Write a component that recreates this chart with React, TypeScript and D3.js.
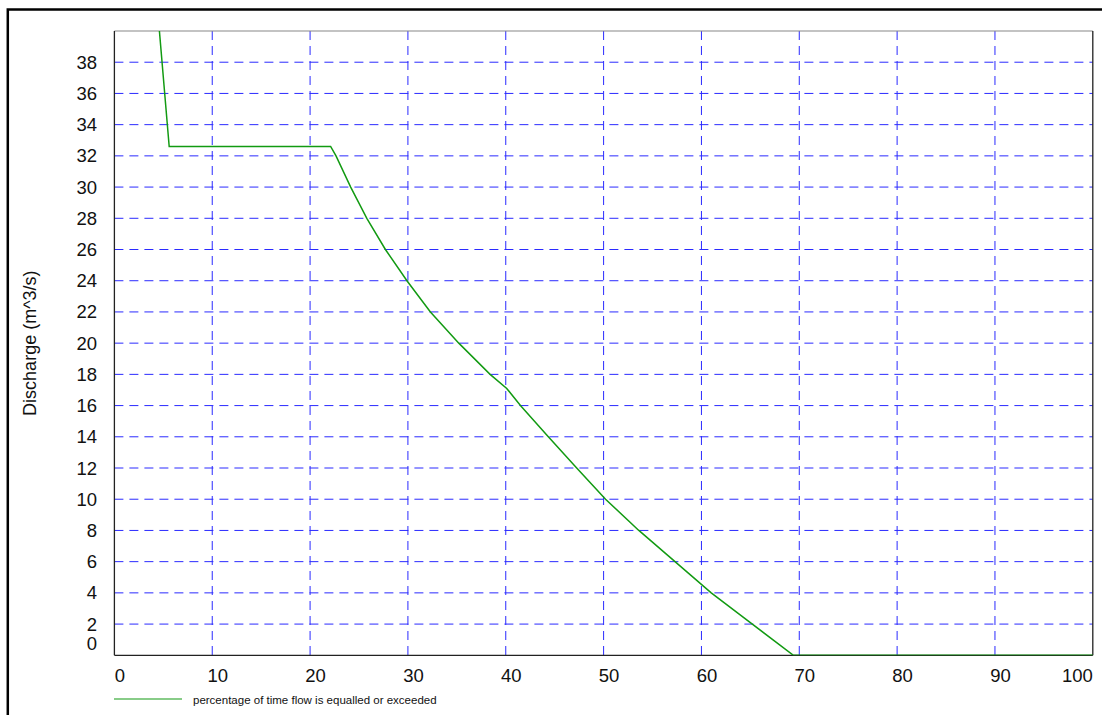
import { useEffect, useRef } from "react";
import * as d3 from "d3";

// Flow duration curve
const flowPct = [4.6, 5.6, 22.1, 22.65, 24.15, 25.8, 27.7, 29.9, 32.3, 35.2, 38.4, 40.1, 41.5, 44.35, 47.25, 50.2, 53.6, 57.3, 61.0, 65.2, 69.4, 100];
const flowQ = [40, 32.6, 32.6, 32, 30, 28, 26, 24, 22, 20, 18, 17.1, 16, 14, 12, 10, 8, 6, 4, 2, 0, 0];

const xTicks = [0, 10, 20, 30, 40, 50, 60, 70, 80, 90, 100];
const yTicks = [0, 2, 4, 6, 8, 10, 12, 14, 16, 18, 20, 22, 24, 26, 28, 30, 32, 34, 36, 38];

const WIDTH = 1102;
const HEIGHT = 715;
const PLOT = { left: 114.4, right: 1092.8, top: 31, bottom: 655.3 };

const COLOR_GRID = "#2a2aff";
const COLOR_LINE = "#129a12";
const FONT = "'Liberation Sans', Arial, sans-serif";

export default function App() {
  const svgRef = useRef<SVGSVGElement>(null);

  useEffect(() => {
    const svg = d3.select(svgRef.current);
    svg.selectAll("*").remove();

    const x = d3.scaleLinear().domain([0, 100]).range([PLOT.left, PLOT.right]);
    const y = d3.scaleLinear().domain([0, 40]).range([PLOT.bottom, PLOT.top]);

    svg.append("rect").attr("width", WIDTH).attr("height", HEIGHT).attr("fill", "#fff");

    // outer frame (runs off the right/bottom edge)
    svg
      .append("rect")
      .attr("x", 7.8)
      .attr("y", 9.5)
      .attr("width", 1200)
      .attr("height", 800)
      .attr("fill", "none")
      .attr("stroke", "#000")
      .attr("stroke-width", 2.5);

    const clipId = "plot-clip";
    svg
      .append("clipPath")
      .attr("id", clipId)
      .append("rect")
      .attr("x", PLOT.left)
      .attr("y", PLOT.top)
      .attr("width", PLOT.right - PLOT.left)
      .attr("height", PLOT.bottom - PLOT.top);

    // gridlines
    xTicks.slice(1, -1).forEach((t) => {
      svg
        .append("line")
        .attr("x1", x(t))
        .attr("x2", x(t))
        .attr("y1", PLOT.top)
        .attr("y2", PLOT.bottom)
        .attr("stroke", COLOR_GRID)
        .attr("stroke-width", 1)
        .attr("stroke-dasharray", "9,6");
    });
    yTicks.slice(1).forEach((t) => {
      svg
        .append("line")
        .attr("x1", PLOT.left)
        .attr("x2", PLOT.right)
        .attr("y1", y(t))
        .attr("y2", y(t))
        .attr("stroke", COLOR_GRID)
        .attr("stroke-width", 1)
        .attr("stroke-dasharray", "9,6");
    });

    // plot border
    svg
      .append("line")
      .attr("x1", PLOT.left)
      .attr("x2", PLOT.right)
      .attr("y1", PLOT.top)
      .attr("y2", PLOT.top)
      .attr("stroke", "#888")
      .attr("stroke-width", 1.2);
    [
      [PLOT.left, PLOT.top, PLOT.left, PLOT.bottom],
      [PLOT.right, PLOT.top, PLOT.right, PLOT.bottom],
      [PLOT.left, PLOT.bottom, PLOT.right, PLOT.bottom],
    ].forEach(([x1, y1, x2, y2]) => {
      svg
        .append("line")
        .attr("x1", x1)
        .attr("y1", y1)
        .attr("x2", x2)
        .attr("y2", y2)
        .attr("stroke", "#222")
        .attr("stroke-width", 1.3);
    });

    // curve
    const line = d3
      .line<number>()
      .x((_, i) => x(flowPct[i]))
      .y((d) => y(d));
    svg
      .append("path")
      .datum(flowQ)
      .attr("d", line)
      .attr("clip-path", `url(#${clipId})`)
      .attr("fill", "none")
      .attr("stroke", COLOR_LINE)
      .attr("stroke-width", 1.5);

    // y tick labels
    yTicks.forEach((t) => {
      svg
        .append("text")
        .attr("x", 97)
        .attr("y", t === 0 ? y(t) - 12 : y(t))
        .attr("text-anchor", "end")
        .attr("dominant-baseline", "central")
        .attr("font-family", FONT)
        .attr("font-size", "18.5px")
        .attr("fill", "#111")
        .text(t);
    });

    // x tick labels
    xTicks.forEach((t, i) => {
      const last = i === xTicks.length - 1;
      svg
        .append("text")
        .attr("x", last ? PLOT.right : x(t) + 5.5)
        .attr("y", 681.5)
        .attr("text-anchor", last ? "end" : "middle")
        .attr("font-family", FONT)
        .attr("font-size", "18.5px")
        .attr("fill", "#111")
        .text(t);
    });

    // y axis title
    svg
      .append("text")
      .attr("transform", `translate(30,${(PLOT.top + PLOT.bottom) / 2}) rotate(-90)`)
      .attr("text-anchor", "middle")
      .attr("dominant-baseline", "central")
      .attr("font-family", FONT)
      .attr("font-size", "18px")
      .attr("fill", "#111")
      .text("Discharge (m^3/s)");

    // legend
    svg
      .append("line")
      .attr("x1", 114)
      .attr("x2", 182)
      .attr("y1", 699)
      .attr("y2", 699)
      .attr("stroke", COLOR_LINE)
      .attr("stroke-width", 1.2);
    svg
      .append("text")
      .attr("x", 193)
      .attr("y", 703.5)
      .attr("font-family", FONT)
      .attr("font-size", "11.5px")
      .attr("fill", "#111")
      .text("percentage of time flow is equalled or exceeded");
  }, []);

  return (
    <svg
      ref={svgRef}
      width={WIDTH}
      height={HEIGHT}
      style={{ position: "fixed", left: 0, top: 0, display: "block" }}
    />
  );
}
